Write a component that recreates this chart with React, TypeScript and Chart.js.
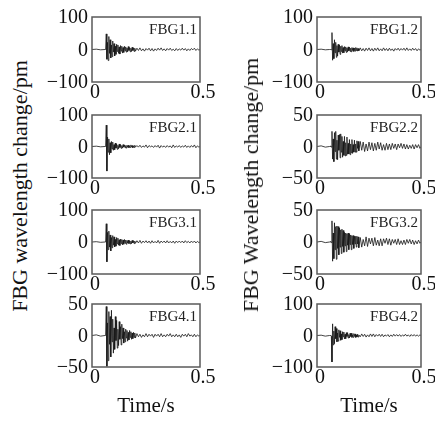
import React, { useEffect, useRef } from "react";
import { Chart, registerables } from "chart.js";

Chart.register(...registerables);

// ---------- data ----------
const times = [0, 0.02, 0.04, 0.06,
  0.063, 0.066, 0.069, 0.072, 0.075, 0.078, 0.081, 0.084, 0.087, 0.09,
  0.093, 0.096, 0.099, 0.102, 0.105, 0.108, 0.111, 0.114, 0.117, 0.12,
  0.123, 0.126, 0.129, 0.132, 0.135, 0.138, 0.141, 0.144, 0.147, 0.15,
  0.153, 0.156, 0.159, 0.162, 0.165, 0.168, 0.171, 0.174, 0.177, 0.18,
  0.183, 0.186, 0.189, 0.192, 0.195, 0.198, 0.201,
  0.208, 0.215, 0.222, 0.229, 0.236, 0.243, 0.25, 0.257, 0.264, 0.271,
  0.278, 0.285, 0.292, 0.299, 0.306, 0.313, 0.32, 0.327, 0.334, 0.341,
  0.348, 0.355, 0.362, 0.369, 0.376, 0.383, 0.39, 0.397, 0.404, 0.411,
  0.418, 0.425, 0.432, 0.439, 0.446, 0.453, 0.46, 0.467, 0.474, 0.481,
  0.488, 0.495, 0.5];

const fbg11 = [0, 1, -1, 0,
  0, 48, -30, 22, -34, 40, -12, 30, -26, 14,
  -22, 26, -8, 18, -20, 10, -15, 16, -6, 14,
  -12, 8, -14, 12, -5, 10, -11, 6, -9, 10,
  -4, 8, -8, 5, -7, 9, -3, 6, -7, 4,
  -6, 7, -3, 5, -6, 4, -5,
  4, -3, 5, -4, 2, -5, 3, -2, 4, -4,
  3, -5, 2, -3, 4, -2, 5, -3, 2, -4,
  3, -2, 4, -3, 1, -4, 3, -3, 2, -2,
  4, -2, 3, -4, 2, -3, 3, -1, 4, -3,
  2, -2, 0];

const fbg21 = [0, 1, -1, 0,
  0, 68, -78, 30, -18, 24, -26, 12, -20, 16,
  -8, 14, -12, 6, -10, 11, -5, 8, -9, 4,
  -7, 8, -3, 6, -6, 3, -5, 6, -2, 5,
  -4, 3, -5, 4, -2, 4, -4, 2, -3, 5,
  -2, 3, -4, 2, -3, 4, -2,
  3, -2, 4, -3, 2, -2, 5, -4, 3, -1,
  2, -3, 3, -2, 4, -5, 3, -2, 2, -3,
  3, -2, 2, -4, 5, -3, 2, -2, 3, -3,
  2, -2, 4, -3, 2, -3, 3, -2, 5, -4,
  2, -2, 0];

const fbg31 = [0, 1, -1, 0,
  0, 57, -62, 30, -24, 34, -16, 22, -28, 14,
  -18, 20, -10, 16, -15, 8, -13, 14, -6, 12,
  -10, 7, -11, 9, -5, 8, -9, 6, -7, 8,
  -4, 6, -7, 5, -3, 6, -5, 4, -6, 3,
  -5, 5, -3, 4, -5, 3, -4,
  4, -3, 5, -4, 3, -2, 4, -3, 3, -4,
  4, -3, 2, -3, 5, -4, 3, -2, 3, -3,
  4, -3, 2, -3, 3, -4, 3, -2, 3, -2,
  3, -3, 4, -2, 2, -3, 3, -2, 3, -3,
  2, -2, 0];

const fbg41 = [0, 1, -1, 0,
  0, 46, -49, 20, -40, 38, -14, 30, -34, 40,
  -10, 26, -28, 12, -22, 30, -8, 24, -20, 10,
  -16, 22, -6, 14, -15, 18, -5, 12, -12, 6,
  -10, 10, -4, 8, -9, 5, -7, 8, -3, 6,
  -6, 4, -5, 5, -3, 4, -4,
  3, -2, 2, -3, 1, -2, 3, -2, 2, -1,
  2, -3, 2, -1, 2, -2, 3, -2, 1, -2,
  2, -1, 3, -2, 1, -2, 2, -2, 1, -3,
  2, -1, 2, -2, 3, -1, 1, -2, 2, -2,
  1, -1, 0];

const fbg12 = [0, 1, -1, 0,
  0, 1, -1, 52, -33, 18, -28, 30, -10, 22,
  -24, 12, -20, 16, -8, 14, -15, 10, -6, 12,
  -11, 6, -10, 9, -4, 8, -9, 5, -7, 8,
  -4, 7, -6, 4, -7, 6, -3, 5, -6, 4,
  -5, 6, -3, 5, -5, 3, -4,
  5, -4, 3, -5, 4, -3, 5, -4, 3, -5,
  4, -3, 5, -4, 2, -4, 5, -3, 3, -4,
  4, -3, 2, -5, 3, -2, 4, -3, 3, -2,
  4, -3, 5, -3, 2, -3, 4, -2, 3, -4,
  2, -2, 0];

const fbg22 = [0, 1, -1, 0,
  0, 1, -1, 24, -20, 12, -24, 22, -8, 24,
  -20, 10, -21, 18, -6, 19, -18, 20, -9, 16,
  -17, 8, -14, 16, -15, 6, -14, 15, -12, 5,
  -12, 11, -13, 4, -10, 11, -11, 3, -9, 10,
  -9, 4, -9, 9, -3, 8, -7,
  8, -6, 7, -8, 4, -7, 7, -5, 6, -7,
  5, -6, 7, -4, 6, -6, 3, -6, 5, -5,
  4, -5, 5, -3, 4, -5, 4, -2, 5, -3,
  4, -4, 3, -4, 2, -3, 3, -4, 3, -2,
  3, -3, 0];

const fbg32 = [0, 1, -1, 0,
  0, 1, -1, 33, -30, 14, -26, 30, -12, 24,
  -27, 25, -10, 24, -20, 22, -8, 19, -18, 20,
  -7, 18, -16, 15, -6, 14, -15, 13, -5, 14,
  -12, 13, -4, 11, -12, 10, -4, 10, -10, 9,
  -3, 9, -8, 9, -3, 8, -9,
  7, -8, 4, -6, 8, -7, 6, -3, 6, -6,
  7, -5, 3, -6, 5, -6, 5, -2, 6, -4,
  5, -5, 4, -2, 4, -4, 5, -4, 2, -4,
  3, -4, 4, -2, 4, -3, 3, -4, 2, -3,
  3, -2, 0];

const fbg42 = [0, 1, -2, 0,
  0, 1, -2, -84, 37, -30, 14, -26, 28, -10,
  22, -20, 8, -18, 18, -6, 15, -15, 5, -13,
  12, -4, 11, -11, 4, -10, 9, -3, 9, -8,
  3, -8, 7, -3, 7, -6, 2, -6, 6, -3,
  5, -6, 2, -5, 4, -5, 2,
  -4, 5, -3, 4, -5, 2, -4, 5, -3, 5,
  -4, 3, -2, 4, -3, 4, -4, 2, -2, 3,
  -4, 2, -3, 4, -2, 3, -2, 3, -3, 2,
  -2, 4, -2, 2, -3, 3, -2, 3, -2, 2,
  -2, 2, 0];

const leftNames = ["FBG1.1", "FBG2.1", "FBG3.1", "FBG4.1"];
const rightNames = ["FBG1.2", "FBG2.2", "FBG3.2", "FBG4.2"];
const leftSeries = [fbg11, fbg21, fbg31, fbg41];
const rightSeries = [fbg12, fbg22, fbg32, fbg42];
const leftLimits = [100, 100, 100, 50];
const rightLimits = [100, 50, 50, 100];
const xTickLabels = ["0", "0.5"];
const xTitle = "Time/s";
const leftYTitle = "FBG wavelength change/pm";
const rightYTitle = "FBG Wavelength change/pm";

// ---------- layout ----------
const FONT = "'Liberation Serif', 'Times New Roman', serif";
const COLS = [{ left: 92, right: 200 }, { left: 317, right: 421 }];
const ROWS = [{ top: 15, bottom: 82 }, { top: 113, bottom: 178 }, { top: 208, bottom: 274 }, { top: 302, bottom: 367 }];
const PAD_L = 60, PAD_T = 14, PAD_R = 20, X_H = 26, PAGE_H = 421;

const boxPlugin = {
  id: "panelBox",
  afterDraw(chart: any, _args: any, opts: any) {
    const { ctx, chartArea } = chart;
    const { left, top, right, bottom } = chartArea;
    ctx.save();
    ctx.strokeStyle = "#5a5a5a";
    ctx.lineWidth = 1.5;
    ctx.strokeRect(left, top, right - left, bottom - top);
    ctx.fillStyle = "#222";
    ctx.font = `15px ${FONT}`;
    ctx.textAlign = "right";
    ctx.textBaseline = "alphabetic";
    ctx.fillText(opts.text, right - 3, top + 17);
    ctx.restore();
  },
};

function Panel({ name, values, limit, col, row, isBottom }: any) {
  const ref = useRef<HTMLCanvasElement>(null);
  const boxW = col.right - col.left;
  const boxH = row.bottom - row.top;
  const xh = isBottom ? PAGE_H - row.bottom : X_H;
  const w = PAD_L + boxW + PAD_R;
  const h = PAD_T + boxH + xh;

  useEffect(() => {
    const chart = new Chart(ref.current as HTMLCanvasElement, {
      type: "line",
      data: {
        datasets: [
          {
            data: times.map((t, i) => ({ x: t, y: values[i] })),
            borderColor: "#151515",
            borderWidth: 0.8,
            pointRadius: 0,
            tension: 0,
          },
        ],
      },
      options: {
        animation: false,
        responsive: false,
        maintainAspectRatio: false,
        layout: { padding: { left: 0, top: PAD_T, right: PAD_R, bottom: 0 } },
        plugins: {
          legend: { display: false },
          tooltip: { enabled: false },
          panelBox: { text: name },
        } as any,
        scales: {
          x: {
            type: "linear",
            min: 0,
            max: 0.5,
            grid: { display: false, drawTicks: false },
            border: { display: false },
            ticks: {
              stepSize: 0.5,
              padding: 0,
              labelOffset: 3,
              maxRotation: 0,
              autoSkip: false,
              color: "#111",
              font: { family: FONT, size: 20, lineHeight: 1.1 },
              callback: (_v: any, i: number) => xTickLabels[i],
            },
            title: isBottom
              ? { display: true, text: xTitle, color: "#111", font: { family: FONT, size: 21 }, padding: { top: 0, bottom: 2 } }
              : { display: false },
            afterFit: (s: any) => { s.height = xh; },
          },
          y: {
            type: "linear",
            min: -limit,
            max: limit,
            grid: { display: false, drawTicks: false },
            border: { display: false },
            ticks: {
              stepSize: limit,
              padding: 4,
              labelOffset: 1,
              color: "#111",
              font: { family: FONT, size: 20 },
              callback: (v: any) => (v < 0 ? "\u2212" + Math.abs(v) : String(v)),
            },
            afterFit: (s: any) => { s.width = PAD_L; },
          },
        },
      } as any,
      plugins: [boxPlugin],
    });
    return () => chart.destroy();
  }, []);

  return (
    <canvas
      ref={ref}
      width={w}
      height={h}
      style={{ position: "absolute", left: col.left - PAD_L, top: row.top - PAD_T, width: w, height: h }}
    />
  );
}

const titleStyle: any = {
  position: "absolute",
  transform: "translate(-50%, -50%) rotate(-90deg)",
  whiteSpace: "nowrap",
  fontFamily: FONT,
  fontSize: 22,
  color: "#111",
  lineHeight: 1,
};

export default function App() {
  return (
    <div style={{ position: "absolute", left: 0, top: 0, width: 435, height: 421, overflow: "hidden", background: "#fff" }}>
      {ROWS.map((row, r) => (
        <Panel key={"l" + r} name={leftNames[r]} values={leftSeries[r]} limit={leftLimits[r]} col={COLS[0]} row={row} isBottom={r === 3} />
      ))}
      {ROWS.map((row, r) => (
        <Panel key={"r" + r} name={rightNames[r]} values={rightSeries[r]} limit={rightLimits[r]} col={COLS[1]} row={row} isBottom={r === 3} />
      ))}
      <div style={{ ...titleStyle, left: 20, top: 186 }}>{leftYTitle}</div>
      <div style={{ ...titleStyle, left: 251, top: 185 }}>{rightYTitle}</div>
    </div>
  );
}
